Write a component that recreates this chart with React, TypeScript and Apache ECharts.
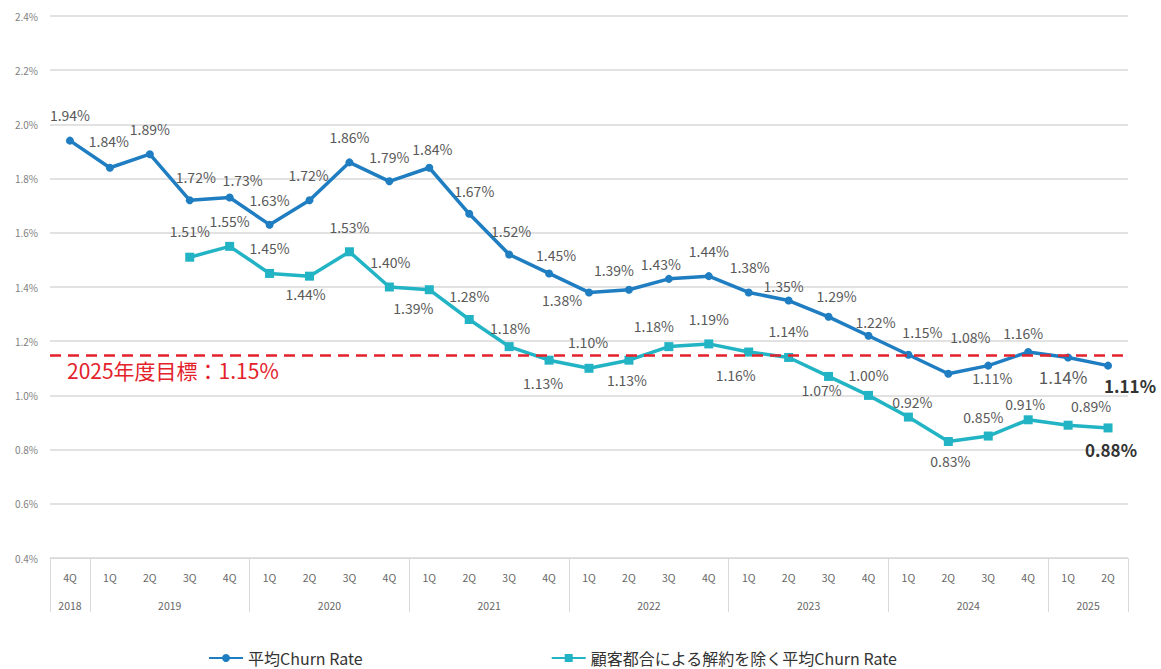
import React, { useEffect, useRef } from "react";
import * as echarts from "echarts";

const quarterLabels = [
  "4Q",
  "1Q", "2Q", "3Q", "4Q",
  "1Q", "2Q", "3Q", "4Q",
  "1Q", "2Q", "3Q", "4Q",
  "1Q", "2Q", "3Q", "4Q",
  "1Q", "2Q", "3Q", "4Q",
  "1Q", "2Q", "3Q", "4Q",
  "1Q", "2Q",
];
const yearOfCategory = [
  "2018",
  "2019", "2019", "2019", "2019",
  "2020", "2020", "2020", "2020",
  "2021", "2021", "2021", "2021",
  "2022", "2022", "2022", "2022",
  "2023", "2023", "2023", "2023",
  "2024", "2024", "2024", "2024",
  "2025", "2025",
];

const avgChurn = [
  1.94, 1.84, 1.89, 1.72, 1.73, 1.63, 1.72, 1.86, 1.79, 1.84, 1.67, 1.52, 1.45, 1.38,
  1.39, 1.43, 1.44, 1.38, 1.35, 1.29, 1.22, 1.15, 1.08, 1.11, 1.16, 1.14, 1.11,
];
const avgChurnExclCustomer = [
  null, null, null,
  1.51, 1.55, 1.45, 1.44, 1.53, 1.40, 1.39, 1.28, 1.18, 1.13, 1.10,
  1.13, 1.18, 1.19, 1.16, 1.14, 1.07, 1.00, 0.92, 0.83, 0.85, 0.91, 0.89, 0.88,
];
const targetValue = 1.15;
const targetLabel = "2025年度目標：1.15%";
const seriesNames = ["平均Churn Rate", "顧客都合による解約を除く平均Churn Rate"];
const yTicks = { min: 0.4, max: 2.4, step: 0.2 };

// label placement (offset of label centre from the point), styling only
const blueOffsets: number[][] = [
  [0, -26], [-1, -27], [0, -25], [6, -23], [13, -18], [0, -25], [-1, -25], [0, -25], [0, -24],
  [3, -19], [5, -23], [2, -23], [7, -18], [-27, 8], [-15, -20], [-8, -15], [0, -25], [1, -25],
  [-5, -15], [8, -21], [7, -14], [14, -23], [22, -37], [4, 12], [-5, -19], [-5, 19], [22, 20],
];
const tealOffsets: number[][] = [
  [0, 0], [0, 0], [0, 0],
  [0, -26], [0, -25], [0, -25], [-4, 18], [0, -25], [1, -25], [-16, 18], [0, -24], [1, -19],
  [-6, 23], [-1, -26], [-2, 20], [-15, -21], [0, -25], [-13, 23], [0, -26], [-7, 14], [0, -20],
  [4, -15], [2, 20], [-5, -19], [-3, -16], [23, -19], [3, 22],
];

const FONT = "'Noto Sans CJK JP', 'Noto Sans', sans-serif";
const BLUE = "#1f7dc1";
const TEAL = "#22b4c4";
const LABEL_COLOR = "#595959";

function buildData(values: (number | null)[], offsets: number[][], bigIdx: number[], boldIdx: number[]) {
  return values.map((v, i) => {
    if (v == null) return null;
    const bold = boldIdx.includes(i);
    const big = bigIdx.includes(i);
    return {
      value: v,
      label: {
        show: true,
        position: "inside",
        offset: offsets[i],
        formatter: (p: any) => p.value.toFixed(2) + "%",
        fontFamily: FONT,
        fontSize: bold || big ? 17 : 14,
        fontWeight: bold ? "bold" : "normal",
        color: bold ? "#333333" : LABEL_COLOR,
      },
    };
  });
}

export default function App() {
  const ref = useRef<HTMLDivElement>(null);

  useEffect(() => {
    if (!ref.current) return;
    const chart = echarts.init(ref.current, undefined, { renderer: "svg" });

    const n = quarterLabels.length;
    // boundaries between year groups
    const boundaries: number[] = [];
    const yearCenters: Record<string, string> = {};
    let start = 0;
    for (let i = 0; i <= n; i++) {
      if (i === n || (i > 0 && yearOfCategory[i] !== yearOfCategory[i - 1])) {
        boundaries.push(start);
        const center = (start + i) / 2;
        yearCenters[String(Math.round(center * 2) / 2)] = yearOfCategory[start];
        start = i;
      }
    }

    const option: any = {
      animation: false,
      textStyle: { fontFamily: FONT },
      grid: { left: 50, right: 33, top: 16, bottom: 111 },
      legend: {
        left: 203,
        top: 645,
        itemWidth: 34,
        itemHeight: 10,
        itemGap: 188,
        textStyle: { fontSize: 16, color: "#333333", fontFamily: FONT },
        data: seriesNames,
      },
      xAxis: [
        {
          type: "category",
          data: quarterLabels,
          boundaryGap: true,
          axisLine: { show: true, lineStyle: { color: "#d9d9d9", width: 1 } },
          axisTick: {
            show: true,
            length: 54,
            interval: (idx: number) => boundaries.includes(idx),
            lineStyle: { color: "#d9d9d9", width: 1 },
          },
          axisLabel: { interval: 0, margin: 14, fontSize: 10.5, color: "#666666", fontFamily: FONT },
        },
        {
          type: "value",
          position: "bottom",
          offset: 28,
          min: 0,
          max: n,
          interval: 0.5,
          axisLine: { show: false },
          axisTick: { show: false },
          splitLine: { show: false },
          axisLabel: {
            margin: 14,
            fontSize: 10.5,
            color: "#666666",
            fontFamily: FONT,
            formatter: (v: number) => yearCenters[String(Math.round(v * 2) / 2)] || "",
          },
        },
      ],
      yAxis: {
        type: "value",
        min: yTicks.min,
        max: yTicks.max,
        interval: yTicks.step,
        axisLine: { show: false },
        axisTick: { show: false },
        splitLine: { lineStyle: { color: "#d9d9d9", width: 1.5 } },
        axisLabel: {
          margin: 12,
          fontSize: 10,
          color: "#7f7f7f",
          fontFamily: FONT,
          formatter: (v: number) => v.toFixed(1) + "%",
        },
      },
      series: [
        {
          name: seriesNames[0],
          type: "line",
          data: buildData(avgChurn, blueOffsets, [25], [26]),
          symbol: "circle",
          symbolSize: 8,
          itemStyle: { color: BLUE },
          lineStyle: { color: BLUE, width: 3.5 },
          z: 3,
          markLine: {
            silent: true,
            symbol: "none",
            data: [{ yAxis: targetValue }],
            lineStyle: { color: "#e3222b", width: 2.5, type: [11, 7] },
            label: {
              show: true,
              position: "insideStartBottom",
              distance: [17, 5],
              formatter: targetLabel,
              color: "#e3222b",
              fontSize: 21,
              fontFamily: FONT,
            },
          },
        },
        {
          name: seriesNames[1],
          type: "line",
          data: buildData(avgChurnExclCustomer, tealOffsets, [], [26]),
          symbol: "rect",
          symbolSize: 9,
          itemStyle: { color: TEAL },
          lineStyle: { color: TEAL, width: 3.5 },
          z: 2,
        },
      ],
    };
    chart.setOption(option);
    return () => chart.dispose();
  }, []);

  return (
    <div
      ref={ref}
      style={{ position: "absolute", left: 0, top: 0, width: 1161, height: 669, background: "#ffffff" }}
    />
  );
}
